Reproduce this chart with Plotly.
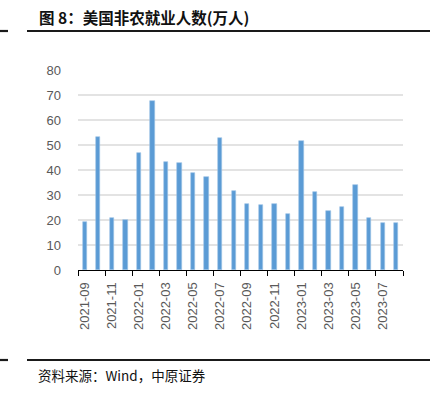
import plotly.graph_objects as go

months = ["2021-09","2021-10","2021-11","2021-12","2022-01","2022-02","2022-03","2022-04",
          "2022-05","2022-06","2022-07","2022-08","2022-09","2022-10","2022-11","2022-12",
          "2023-01","2023-02","2023-03","2023-04","2023-05","2023-06","2023-07","2023-08"]
payrolls = [19.4, 53.1, 21.0, 19.9, 46.7, 67.8, 43.1, 42.8, 39.0, 37.2, 52.8, 31.5,
            26.3, 26.1, 26.3, 22.3, 51.7, 31.1, 23.6, 25.3, 33.9, 20.9, 18.7, 18.7]
y_ticks = [0, 10, 20, 30, 40, 50, 60, 70, 80]

idx = list(range(len(months)))
W, H = 434, 395
L, R, T, B = 78, 31, 70, 125
pw, ph = W - L - R, H - T - B

def px(x):
    return (x - L) / pw

def py(y):
    return (H - B - y) / ph

fig = go.Figure(go.Bar(
    x=idx, y=payrolls, width=0.32,
    marker=dict(color="#5B9BD5", line=dict(color="#9DC3E6", width=0.6)),
))

fig.update_layout(
    width=W, height=H,
    margin=dict(l=L, r=R, t=T, b=B),
    plot_bgcolor="white", paper_bgcolor="white",
    showlegend=False,
    font=dict(family="Liberation Sans, Arial, sans-serif", color="#595959"),
    bargap=0,
)
fig.update_xaxes(
    range=[-0.5, 23.5], tickmode="array",
    tickvals=idx[::2], ticktext=months[::2], tickangle=-90,
    tickfont=dict(size=13, color="#595959"),
    ticks="", showgrid=False, zeroline=False, ticklabelstandoff=6,
    showline=True, linecolor="#000000", linewidth=1.3,
    minor=dict(tickvals=[i - 0.5 for i in range(0, 25, 2)], ticks="outside",
               ticklen=5, tickcolor="#000000", tickwidth=1.3, showgrid=False),
)
fig.update_yaxes(
    range=[0, 80], tickvals=y_ticks, ticks="",
    tickfont=dict(size=13, color="#595959"),
    showgrid=True, gridcolor="#E3E3E3", gridwidth=1.5,
    zeroline=False, showline=False, ticklabelstandoff=16,
)

line_col = "#1A1A1A"
for yy in (31, 360):
    fig.add_shape(type="line", xref="paper", yref="paper",
                  x0=px(27), x1=px(430), y0=py(yy), y1=py(yy),
                  line=dict(color=line_col, width=2.2))
    fig.add_shape(type="line", xref="paper", yref="paper",
                  x0=px(0), x1=px(8), y0=py(yy), y1=py(yy),
                  line=dict(color=line_col, width=2.2))

fig.add_annotation(xref="paper", yref="paper", x=px(37), y=py(17),
                   xanchor="left", yanchor="middle", showarrow=False,
                   text="<b>图 8：美国非农就业人数(万人)</b>",
                   font=dict(family="Noto Sans CJK SC", size=15.5, color="#111111"))
fig.add_annotation(xref="paper", yref="paper", x=px(36), y=py(375),
                   xanchor="left", yanchor="middle", showarrow=False,
                   text="资料来源：Wind，中原证券",
                   font=dict(family="Noto Sans CJK SC", size=13.5, color="#111111"))

fig.write_html("out.html", config={"displayModeBar": False},
               post_script="document.body.style.margin='0';document.body.style.overflow='hidden';")
